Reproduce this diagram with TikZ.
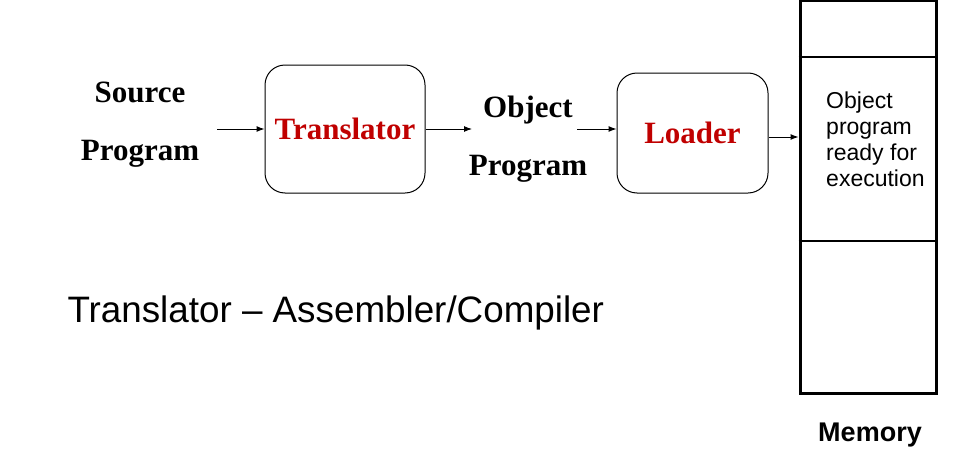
\documentclass[tikz,border=0pt]{standalone}
\usepackage{fontspec}
\setmainfont{Liberation Serif}
\setsansfont{Liberation Sans}
\usetikzlibrary{arrows.meta}
\definecolor{boxred}{RGB}{192,0,0}
\tikzset{
  prog/.style={font=\bfseries\fontsize{31}{58}\selectfont,align=center},
  tool/.style={draw,rounded corners=20pt,line width=1pt,font=\bfseries\fontsize{31}{36}\selectfont,text=boxred},
  flow/.style={-{Latex[length=8pt,width=6pt]},line width=1pt}
}
\begin{document}
\begin{tikzpicture}[x=1pt,y=-1pt]
\useasboundingbox (0,0) rectangle (960,460);

\node[prog] (src) at (140,125) {Source\\Program};
\node[tool,minimum width=160pt,minimum height=128pt] (trans) at (345,129) {Translator};
\node[prog] (obj) at (528,139) {Object\\Program};
\node[tool,minimum width=151pt,minimum height=120pt] (load) at (692.5,133) {Loader};

\node[draw,line width=3pt,minimum width=136pt,minimum height=392pt,inner sep=0pt] (mem) at (868,197) {};
\draw[line width=2pt] (mem.west |- 0,57) -- (mem.east |- 0,57);
\draw[line width=2pt] (mem.west |- 0,241) -- (mem.east |- 0,241);
\node[font=\sffamily\fontsize{23}{26}\selectfont,align=left,anchor=north west,inner sep=0pt] (ready) at (826,92) {Object\\program\\ready for\\execution};
\node[font=\sffamily\bfseries\fontsize{27}{30}\selectfont] (memlbl) at (870,435) {Memory};

\coordinate (in) at (217,129);
\coordinate (out) at (472,129);
\coordinate (obj in) at (577,129);
\coordinate (ld out) at (769,137);
\draw[flow] (in) -- (trans.west);
\draw[flow] (trans.east) -- (out);
\draw[flow] (obj in) -- (obj in -| load.west);
\draw[flow] (ld out) -- (ld out -| mem.west);

\node[font=\sffamily\fontsize{36.8}{40}\selectfont,anchor=west] (note) at (64,313) {Translator -- Assembler/Compiler};
\end{tikzpicture}
\end{document}
